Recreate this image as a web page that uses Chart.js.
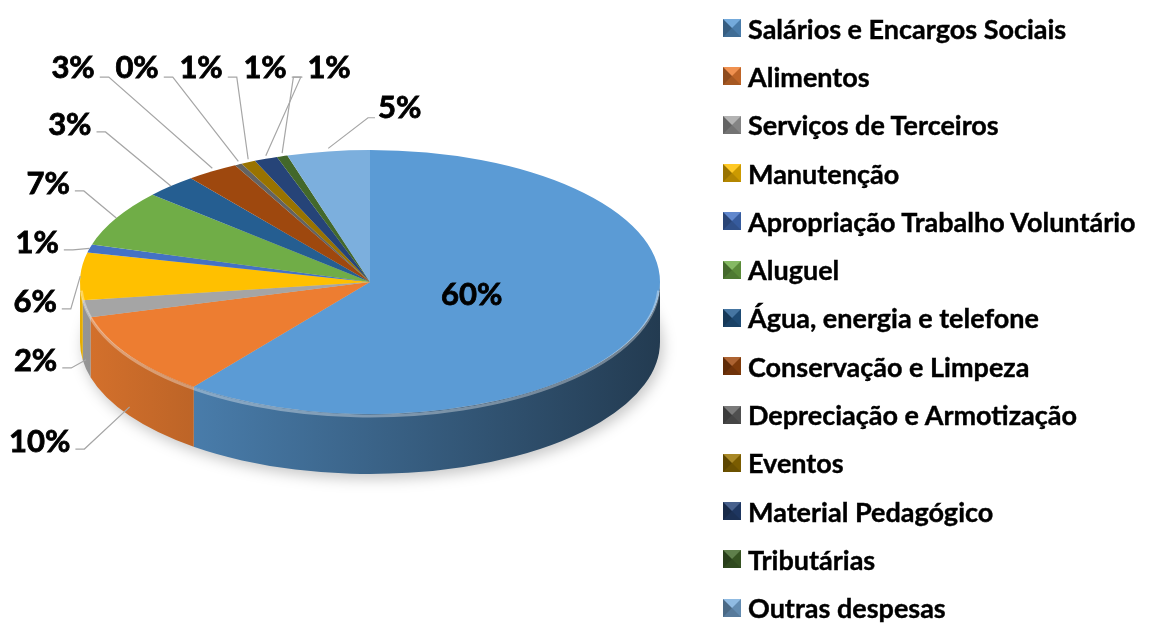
<!DOCTYPE html>
<html>
<head>
<meta charset="utf-8">
<script src="https://cdn.jsdelivr.net/npm/chart.js@4.4.1/dist/chart.umd.min.js"></script>
<style>
  body { margin: 0; background: #fff; font-family: 'Lato', sans-serif; }
  #wrap { position: absolute; left: 0; top: 0; width: 1157px; height: 623px; }
  #legend { position: absolute; left: 723px; top: 4px; margin: 0; padding: 0; list-style: none; }
  #legend li { height: 48.3px; display: flex; align-items: center; font-size: 27px; font-weight: 700; color: #000;
    white-space: nowrap; -webkit-text-stroke: 0.4px #000; }
  #legend .sw { width: 0; height: 0; border-style: solid; border-width: 9px; margin-right: 7px; }
</style>
</head>
<body>
<div id="wrap"><canvas id="pieChart"></canvas></div>
<ul id="legend"></ul>
<script>
// despesas por categoria (%)
const categories = [
  'Salários e Encargos Sociais', 'Alimentos', 'Serviços de Terceiros', 'Manutenção',
  'Apropriação Trabalho Voluntário', 'Aluguel', 'Água, energia e telefone',
  'Conservação e Limpeza', 'Depreciação e Armotização', 'Eventos',
  'Material Pedagógico', 'Tributárias', 'Outras despesas'
];
const shares = [60.4, 10.3, 2.1, 5.8, 1.0, 6.9, 2.9, 2.9, 0.4, 0.8, 1.3, 0.6, 4.6];
const sliceColors = [
  '#5B9BD5', '#ED7D31', '#A5A5A5', '#FFC000', '#4472C4', '#70AD47', '#255E91',
  '#9E480E', '#636363', '#997300', '#264478', '#43682B', '#7CAFDD'
];

// where the tilted pie sits on the page
const PIE = { cx: 370, cy: 282, rx: 290, ry: 132, depth: 60 };

function shade(hex, f) {
  const n = parseInt(hex.slice(1), 16);
  const r = Math.round(((n >> 16) & 255) * f), g = Math.round(((n >> 8) & 255) * f), b = Math.round((n & 255) * f);
  return 'rgb(' + Math.min(r, 255) + ',' + Math.min(g, 255) + ',' + Math.min(b, 255) + ')';
}
function lighten(hex, f) {
  const n = parseInt(hex.slice(1), 16);
  const c = [(n >> 16) & 255, (n >> 8) & 255, n & 255].map(v => Math.round(v + (255 - v) * f));
  return 'rgb(' + c.join(',') + ')';
}

// push overlapping label positions apart
function spread(vals, gap) {
  const order = vals.map((v, i) => i).sort((a, b) => vals[a] - vals[b]);
  const out = vals.slice();
  for (let it = 0; it < 300; it++) {
    for (let k = 1; k < order.length; k++) {
      const a = order[k - 1], b = order[k];
      const d = out[b] - out[a];
      if (d < gap) { const p = (gap - d) / 2; out[a] -= p; out[b] += p; }
    }
  }
  return out;
}

function drawLabel(ctx, text, x, y) {
  ctx.strokeStyle = '#000';
  ctx.lineWidth = 0.8;
  ctx.strokeText(text, x, y);
  ctx.fillText(text, x, y);
}

function leader(ctx, pts) {
  ctx.strokeStyle = '#a6a6a6';
  ctx.lineWidth = 1.2;
  ctx.beginPath();
  ctx.moveTo(pts[0][0], pts[0][1]);
  pts.slice(1).forEach(p => ctx.lineTo(p[0], p[1]));
  ctx.stroke();
}

const pie3d = {
  id: 'pie3d',
  beforeDatasetsDraw(chart) {
    const ctx = chart.ctx;
    const arcs = chart.getDatasetMeta(0).data;

    // soft shadow under the pie
    ctx.save();
    ctx.filter = 'blur(7px)';
    ctx.fillStyle = 'rgba(0,0,0,0.22)';
    ctx.beginPath();
    ctx.ellipse(PIE.cx + 3, PIE.cy + PIE.depth + 5, PIE.rx, PIE.ry, 0, 0, Math.PI * 2);
    ctx.fill();
    ctx.restore();

    // side walls (front half only)
    arcs.forEach((arc, i) => {
      const s = Math.max(arc.startAngle, 0), e = Math.min(arc.endAngle, Math.PI);
      if (e <= s) return;
      const grad = ctx.createLinearGradient(PIE.cx - PIE.rx, 0, PIE.cx + PIE.rx, 0);
      grad.addColorStop(0, shade(sliceColors[i], 0.9));
      grad.addColorStop(1, shade(sliceColors[i], 0.38));
      ctx.beginPath();
      ctx.ellipse(PIE.cx, PIE.cy, PIE.rx, PIE.ry, 0, s, e);
      ctx.ellipse(PIE.cx, PIE.cy + PIE.depth, PIE.rx, PIE.ry, 0, e, s, true);
      ctx.closePath();
      ctx.fillStyle = grad;
      ctx.fill();
    });

    // squash the library's round arcs into the tilted top face
    const a = arcs[0];
    ctx.save();
    ctx.translate(PIE.cx, PIE.cy);
    ctx.scale(PIE.rx / a.outerRadius, PIE.ry / a.outerRadius);
    ctx.translate(-a.x, -a.y);
  },
  afterDatasetsDraw(chart) {
    const ctx = chart.ctx;
    ctx.restore();
    const arcs = chart.getDatasetMeta(0).data;
    const total = shares.reduce((s, v) => s + v, 0);

    // light rim on the front edge
    ctx.save();
    ctx.strokeStyle = 'rgba(255,255,255,0.35)';
    ctx.lineWidth = 3;
    ctx.beginPath();
    ctx.ellipse(PIE.cx, PIE.cy + 2, PIE.rx - 1, PIE.ry, 0, 0.05, Math.PI - 0.05);
    ctx.stroke();
    ctx.restore();

    ctx.save();
    ctx.font = 'bold 31px Lato';
    ctx.textBaseline = 'middle';
    ctx.fillStyle = '#000';

    const left = [], top = [], topRight = [];
    arcs.forEach((arc, i) => {
      const m = (arc.startAngle + arc.endAngle) / 2;
      const c = Math.cos(m), s = Math.sin(m);
      const item = { i, m, c, s, text: Math.round(shares[i] / total * 100) + '%' };
      if (shares[i] / total > 0.25) {
        ctx.textAlign = 'center';
        drawLabel(ctx, item.text, PIE.cx + PIE.rx * 0.37 * c, PIE.cy + PIE.ry * 0.3 * s);
        return;
      }
      item.ex = PIE.cx + PIE.rx * c;
      item.ey = PIE.cy + PIE.ry * s + (s > 0.05 ? PIE.depth * 0.85 : 0);
      if (c < -0.65) left.push(item);
      else if (c > -0.2) topRight.push(item);
      else top.push(item);
    });

    // labels on the left, stacked down the side
    const ly = spread(left.map(it => PIE.cy + 12 + it.s * (PIE.ry * 1.55 + (it.s > 0 ? PIE.depth : 0))), 59);
    left.forEach((it, k) => {
      const y = ly[k];
      const dy = y < PIE.cy ? y - PIE.cy : Math.max(0, y - PIE.cy - PIE.depth);
      const right = PIE.cx - PIE.rx * 1.08 * Math.sqrt(Math.max(0, 1 - Math.pow(dy / (PIE.ry * 2.6), 2)));
      leader(ctx, [[it.ex, it.ey], [right + 14, y + 7], [right + 5, y + 7]]);
      ctx.textAlign = 'right';
      drawLabel(ctx, it.text, right, y);
    });

    // labels in a row along the top
    const tx = spread(top.map(it => PIE.cx + PIE.rx * 1.4 * it.c), 64);
    const ty = PIE.cy - PIE.ry * 1.62;
    top.forEach((it, k) => {
      const x = tx[k];
      const w = ctx.measureText(it.text).width;
      const side = x < it.ex ? 1 : -1;
      const endX = x + side * (w / 2 + 5);
      leader(ctx, [[it.ex, it.ey - 3], [endX + side * 9, ty + 9], [endX, ty + 9]]);
      ctx.textAlign = 'center';
      drawLabel(ctx, it.text, x, ty);
    });

    // label just right of the top
    topRight.forEach(it => {
      const x = PIE.cx + 8, y = PIE.cy - PIE.ry * 1.32;
      leader(ctx, [[it.ex, it.ey - 3], [x - 10, y + 10], [x - 3, y + 10]]);
      ctx.textAlign = 'left';
      drawLabel(ctx, it.text, x, y);
    });
    ctx.restore();
  }
};

new Chart(document.getElementById('pieChart'), {
  type: 'pie',
  data: {
    labels: categories,
    datasets: [{
      data: shares,
      backgroundColor: sliceColors,
      borderWidth: 0
    }]
  },
  options: {
    responsive: true,
    maintainAspectRatio: false,
    animation: false,
    events: [],
    layout: { padding: { left: 80, right: 497, top: 10, bottom: 10 } },
    plugins: {
      legend: { display: false },
      tooltip: { enabled: false }
    }
  },
  plugins: [pie3d]
});

// legend
const legend = document.getElementById('legend');
categories.forEach((name, i) => {
  const li = document.createElement('li');
  const sw = document.createElement('span');
  sw.className = 'sw';
  sw.style.borderColor = lighten(sliceColors[i], 0.15) + ' ' + shade(sliceColors[i], 0.8) + ' ' +
    shade(sliceColors[i], 0.7) + ' ' + shade(sliceColors[i], 0.6);
  li.appendChild(sw);
  li.appendChild(document.createTextNode(name));
  legend.appendChild(li);
});
</script>
</body>
</html>
